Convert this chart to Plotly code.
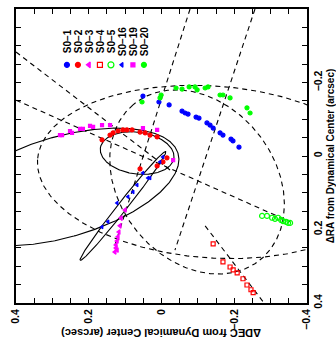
import numpy as np
import plotly.graph_objects as go

# ---------------- data (DEC, RA in arcsec from dynamical center) ----------------
s01_dec = [0.051, 0.007, -0.021, -0.0565, -0.065, -0.073, -0.095, -0.103, -0.125, -0.1335, -0.142, -0.161, -0.169, -0.191, -0.1965, -0.213]
s01_ra = [-0.163, -0.147, -0.139, -0.122, -0.117, -0.114, -0.106, -0.103, -0.090, -0.084, -0.076, -0.063, -0.057, -0.046, -0.041, -0.024]

s02_dec = [0.1635, 0.1415, 0.133, 0.1195, 0.106, 0.095, 0.081, 0.059, 0.045, 0.0315, 0.012, -0.015, -0.004, 0.012, 0.059]
s02_ra = [-0.044, -0.057, -0.063, -0.068, -0.071, -0.071, -0.071, -0.065, -0.063, -0.057, -0.052, 0.005, 0.016, 0.027, 0.035]

s03_dec = [0.100, 0.111, 0.114, 0.117, 0.1195, 0.122, 0.125, 0.125, 0.128, 0.122]
s03_ra = [0.147, 0.169, 0.190, 0.207, 0.220, 0.231, 0.242, 0.250, 0.261, 0.256]

s04_dec = [-0.142, -0.169, -0.1885, -0.197, -0.208, -0.224, -0.235, -0.246, -0.252]
s04_ra = [0.239, 0.288, 0.302, 0.310, 0.318, 0.334, 0.351, 0.364, 0.372]

s05_dec = [-0.2765, -0.290, -0.304, -0.312, -0.3205, -0.329, -0.334, -0.3425, -0.348, -0.3535]
s05_ra = [0.163, 0.163, 0.168, 0.171, 0.168, 0.174, 0.177, 0.179, 0.182, 0.182]

s016_dec = [-0.004, 0.004, 0.0315, 0.051, 0.037, 0.067, 0.078, 0.092, 0.122, 0.147, 0.1635]
s016_ra = [0.0026, 0.016, 0.060, 0.046, 0.060, 0.079, 0.098, 0.111, 0.128, 0.179, 0.193]

s019_dec = [0.279, 0.2735, 0.2515, 0.246, 0.224, 0.216, 0.1965, 0.188, 0.1635, 0.1415, 0.051, 0.012, -0.032]
s019_ra = [-0.057, -0.057, -0.068, -0.063, -0.074, -0.074, -0.082, -0.079, -0.084, -0.084, -0.076, -0.071, 0.011]

s020_dec = [0.0535, 0.004, 0.001, -0.040, -0.0565, -0.076, -0.092, -0.098, -0.120, -0.128, -0.161, -0.169, -0.1885, -0.235, -0.2435]
s020_ra = [-0.147, -0.158, -0.166, -0.185, -0.182, -0.188, -0.188, -0.180, -0.185, -0.188, -0.166, -0.166, -0.158, -0.131, -0.117]

# orbit ellipses: center DEC, center RA, semi-major, semi-minor, angle (deg), dashed?
orb_dec0 = [0.067, 0.2716, 0.106, -0.139, -0.0978]
orb_ra0 = [-0.008, 0.0842, 0.136, 0.0434, 0.0706]
orb_a = [0.102, 0.330, 0.189, 0.481, 0.274]
orb_b = [0.057, 0.137, 0.0125, 0.234, 0.213]
orb_ang = [-7.7, 16.0, 51.5, -4.0, -50.0]
orb_dash = [False, False, False, True, True]

# straight dashed lines (DEC1, RA1) -> (DEC2, RA2)
ln_dec1 = [0.40, 0.40, -0.0785, -0.257, -0.120]
ln_ra1 = [-0.283, -0.152, -0.400, -0.400, 0.190]
ln_dec2 = [-0.0235, -0.3535, 0.128, -0.037, -0.282]
ln_ra2 = [0.038, 0.179, 0.242, 0.256, 0.400]

leg_names = ["S0\u22121", "S0\u22122", "S0\u22123", "S0\u22124", "S0\u22125", "S0\u221216", "S0\u221219", "S0\u221220"]
leg_colors = ["#0000ff", "#ff0000", "#ff00ff", "#ff0000", "#00ff00", "#0000ff", "#ff00ff", "#00ff00"]
leg_symbols = ["circle", "circle", "triangle-left", "square-open", "circle-open", "triangle-left", "square", "circle"]
leg_sizes = [4, 4, 4, 4, 5, 3, 3, 4]

FONT = "Liberation Sans"

fig = go.Figure()

t = np.linspace(0, 2 * np.pi, 500)
for x0, y0, a, b, ang, dash in zip(orb_dec0, orb_ra0, orb_a, orb_b, orb_ang, orb_dash):
    th = np.deg2rad(ang)
    xs = x0 + a * np.cos(th) * np.cos(t) - b * np.sin(th) * np.sin(t)
    ys = y0 + a * np.sin(th) * np.cos(t) + b * np.cos(th) * np.sin(t)
    fig.add_trace(go.Scatter(x=xs, y=ys, mode="lines", showlegend=False, hoverinfo="skip",
                             line=dict(color="black", width=1.1, dash="5px,4px" if dash else "solid")))

for xa, ya, xb, yb in zip(ln_dec1, ln_ra1, ln_dec2, ln_ra2):
    fig.add_trace(go.Scatter(x=[xa, xb], y=[ya, yb], mode="lines", showlegend=False, hoverinfo="skip",
                             line=dict(color="black", width=1.1, dash="5px,4px")))

stars = [(s01_dec, s01_ra), (s02_dec, s02_ra), (s03_dec, s03_ra), (s04_dec, s04_ra),
         (s05_dec, s05_ra), (s016_dec, s016_ra), (s019_dec, s019_ra), (s020_dec, s020_ra)]
for (xs, ys), c, s, sz in zip(stars, leg_colors, leg_symbols, leg_sizes):
    fig.add_trace(go.Scatter(x=xs, y=ys, mode="markers", showlegend=False,
                             marker=dict(color=c, symbol=s, size=sz, line=dict(color=c, width=1.2))))

# legend (rotated, drawn in an overlay frame 0..1)
leg_x0, leg_dx, leg_my, leg_ty = 0.175, 0.0378, 0.81, 0.89
leg_x = [leg_x0 + i * leg_dx for i in range(len(leg_names))]
for i, (c, s, sz) in enumerate(zip(leg_colors, leg_symbols, leg_sizes)):
    fig.add_trace(go.Scatter(x=[leg_x[i]], y=[leg_my], xaxis="x2", yaxis="y2", mode="markers",
                             showlegend=False, hoverinfo="skip",
                             marker=dict(color=c, symbol=s, size=sz + 1, line=dict(color=c, width=1.2))))
    fig.add_annotation(x=leg_x[i], y=leg_ty, xref="paper", yref="paper", text=leg_names[i],
                       textangle=-90, showarrow=False, xanchor="center", yanchor="middle",
                       font=dict(family=FONT, size=10, color="black", weight="bold"))

axis_common = dict(showline=True, linecolor="black", linewidth=2, mirror="allticks",
                   ticks="inside", ticklen=5, tickwidth=1.2, tickcolor="black",
                   showgrid=False, zeroline=False, tickangle=-90,
                   tickmode="linear", tick0=0, dtick=0.2, automargin=False,
                   minor=dict(ticks="inside", ticklen=5, tickwidth=1.2, tickcolor="black", dtick=0.05, showgrid=False),
                   tickfont=dict(family=FONT, size=10.5, color="black", weight="bold"))

fig.update_layout(
    width=336, height=354,
    margin=dict(l=16, r=29, t=9, b=51, autoexpand=False),
    paper_bgcolor="white", plot_bgcolor="white",
    xaxis=dict(range=[0.4, -0.4], **axis_common),
    yaxis=dict(range=[0.4, -0.4], side="right", ticklabelstandoff=0, **axis_common),
    xaxis2=dict(range=[0, 1], overlaying="x", visible=False),
    yaxis2=dict(range=[0, 1], overlaying="y", visible=False),
    # title-only axis on the right for the RA label
    yaxis3=dict(range=[0, 1], overlaying="y", side="right", anchor="free", position=1.0,
                showticklabels=False, ticks="", showline=False, showgrid=False, zeroline=False,
                automargin=False,
                title=dict(text="\u0394RA from Dynamical Center (arcsec)", standoff=19,
                           font=dict(family=FONT, size=10, color="black", weight="bold"))),
)
# invisible trace so the title-only axis is drawn
fig.add_trace(go.Scatter(x=[None], y=[None], yaxis="y3", showlegend=False, hoverinfo="skip"))

fig.add_annotation(x=0.5, y=-0.102, xref="paper", yref="paper",
                   text="\u0394DEC from Dynamical Center (arcsec)", textangle=180, showarrow=False,
                   xanchor="center", yanchor="middle",
                   font=dict(family=FONT, size=11, color="black", weight="bold"))

fig.write_html("out.html", config={"displayModeBar": False},
               post_script="document.body.style.margin='0px';document.body.style.padding='0px';")
